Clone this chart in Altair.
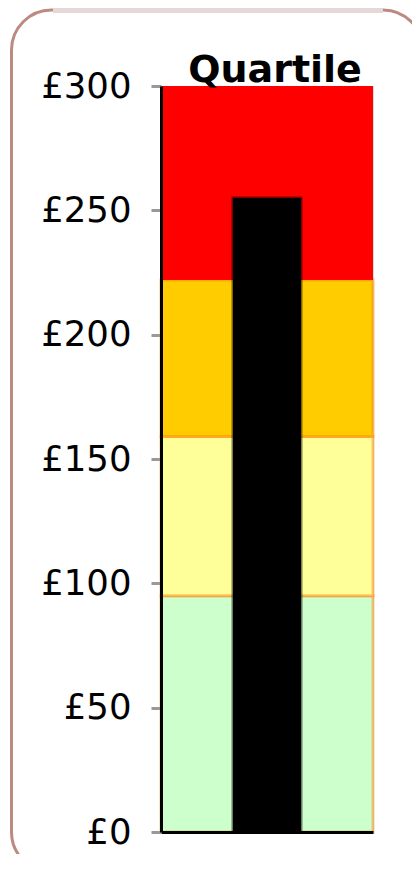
import altair as alt
import pandas as pd

# Data
band_names = ["Lowest", "Lower-mid", "Upper-mid", "Highest"]
band_starts = [0, 95, 159, 222]
band_ends = [95, 159, 222, 300]
band_colors = ["#CCFFCC", "#FFFF99", "#FFCC00", "#FF0000"]
category = "Quartile"
bar_value = 255
tick_values = [0, 50, 100, 150, 200, 250, 300]

bands = pd.DataFrame({
    "cat": [category] * len(band_names),
    "band": band_names,
    "start": band_starts,
    "end": band_ends,
})
bar = pd.DataFrame({"cat": [category], "value": [bar_value]})

x_enc = alt.X("cat:N", scale=alt.Scale(paddingInner=0, paddingOuter=0),
              axis=alt.Axis(labels=False, ticks=False, title=None, domain=True,
                            domainColor="black", domainWidth=3, zindex=2))
y_scale = alt.Scale(domain=[0, 300], nice=False, zero=True)
y_axis = alt.Axis(values=tick_values, labelExpr="'£' + datum.value",
                  title=None, grid=False, domainColor="black", domainWidth=3,
                  tickColor="#999999", tickWidth=3, tickSize=10,
                  labelPadding=20, labelFont="DejaVu Sans", labelFontSize=35.5,
                  labelColor="black", zindex=2)
color_enc = alt.Color("band:N", scale=alt.Scale(domain=band_names, range=band_colors), legend=None)

border = alt.Chart(pd.DataFrame({"d": [0]})).mark_rect(
    cornerRadius=40, fill=None, filled=False, stroke="#bb8a80", strokeWidth=3
).encode(x=alt.value(-149.5), x2=alt.value(262), y=alt.value(-76), y2=alt.value(786))

border_top = alt.Chart(pd.DataFrame({"d": [0]})).mark_rule(
    color="#e6d8d8", strokeWidth=6
).encode(x=alt.value(-108), x2=alt.value(222), y=alt.value(-76))

lower_bands = alt.Chart(bands).transform_filter(
    alt.datum.band != band_names[-1]
).mark_rect(stroke="#ff8000", strokeWidth=3, strokeOpacity=0.45).encode(
    x=x_enc,
    y=alt.Y("start:Q", scale=y_scale, axis=y_axis),
    y2="end:Q",
    color=color_enc,
)

top_band = alt.Chart(bands).transform_filter(
    alt.datum.band == band_names[-1]
).mark_rect().encode(
    x=alt.X("cat:N"),
    y=alt.Y("start:Q"),
    y2="end:Q",
    color=color_enc,
)

bar_layer = alt.Chart(bar).mark_bar(
    size=68, color="black", stroke="black", strokeOpacity=0.5, strokeWidth=3
).encode(x=alt.X("cat:N"), y=alt.Y("value:Q"))

title_layer = alt.Chart(bar).mark_text(
    font="DejaVu Sans", fontSize=38, fontWeight="bold", color="black",
    align="center", baseline="alphabetic"
).encode(x=alt.value(114), y=alt.value(-4), text="cat:N")

chart = alt.layer(border, border_top, lower_bands, top_band, bar_layer, title_layer).properties(
    width=212, height=746,
    autosize=alt.AutoSizeParams(type="none"),
    padding={"left": 153, "top": 78, "right": 39, "bottom": 22},
).configure_view(stroke=None).configure(background="white")

chart.save("out.html", embed_options={"renderer": "svg", "actions": False})
